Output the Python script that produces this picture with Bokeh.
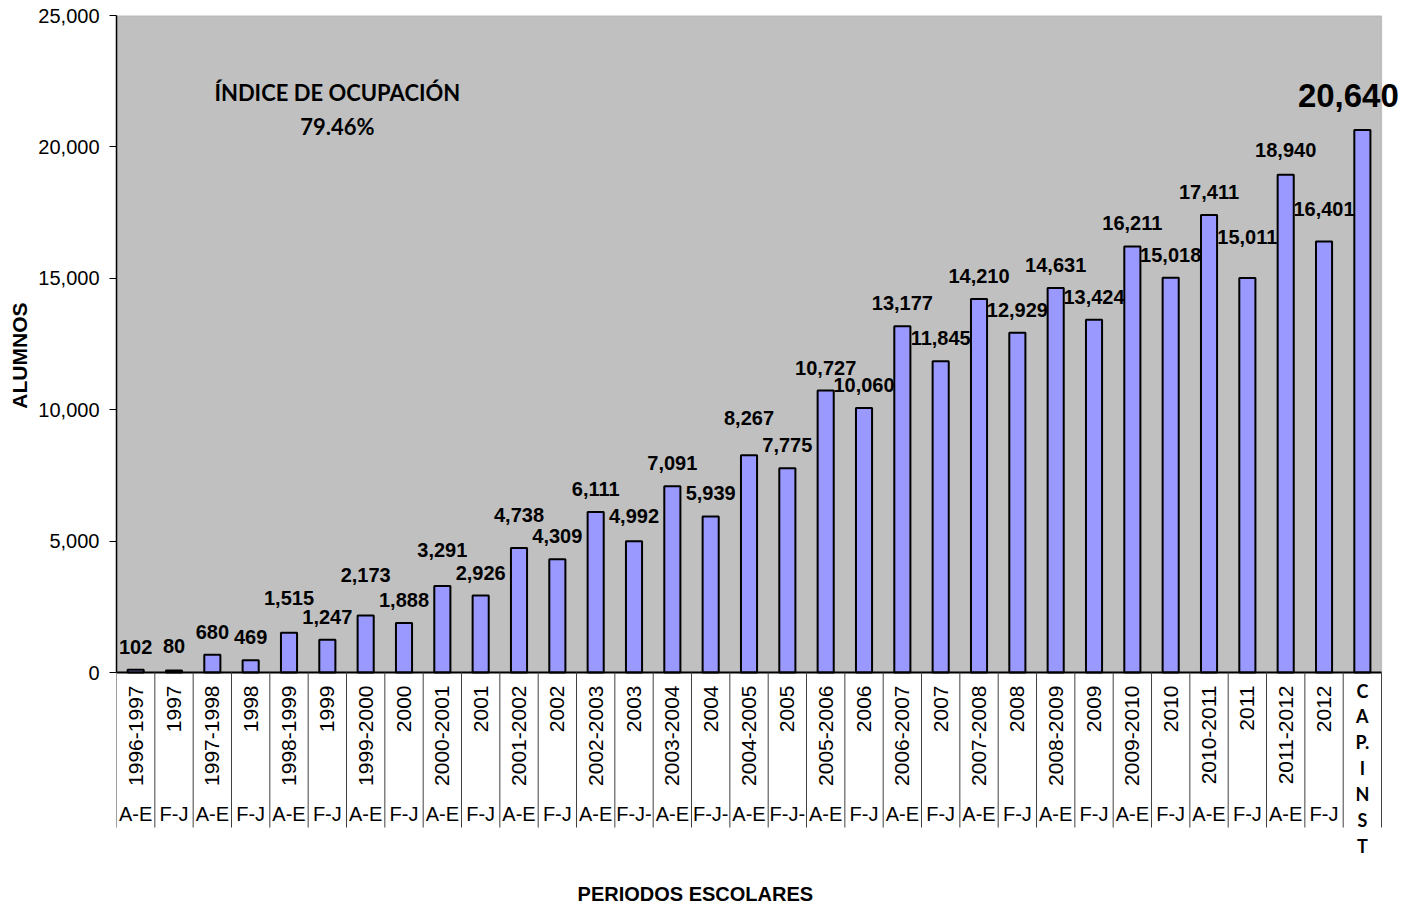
import numpy as np
from bokeh.plotting import figure
from bokeh.models import (Range1d, FixedTicker, NumeralTickFormatter, ColumnDataSource,
                          BoxAnnotation, Title)
from bokeh.embed import file_html
from bokeh.resources import INLINE
from bokeh.core.properties import value

# ---------------- data ----------------
periodos = ["1996-1997", "1997", "1997-1998", "1998", "1998-1999", "1999", "1999-2000", "2000",
            "2000-2001", "2001", "2001-2002", "2002", "2002-2003", "2003", "2003-2004", "2004",
            "2004-2005", "2005", "2005-2006", "2006", "2006-2007", "2007", "2007-2008", "2008",
            "2008-2009", "2009", "2009-2010", "2010", "2010-2011", "2011", "2011-2012", "2012",
            "CAP. INST"]
semestre = ["A-E", "F-J", "A-E", "F-J", "A-E", "F-J", "A-E", "F-J",
            "A-E", "F-J", "A-E", "F-J", "A-E", "F-J-", "A-E", "F-J-",
            "A-E", "F-J-", "A-E", "F-J", "A-E", "F-J", "A-E", "F-J",
            "A-E", "F-J", "A-E", "F-J", "A-E", "F-J", "A-E", "F-J",
            ""]
alumnos = [102, 80, 680, 469, 1515, 1247, 2173, 1888,
           3291, 2926, 4738, 4309, 6111, 4992, 7091, 5939,
           8267, 7775, 10727, 10060, 13177, 11845, 14210, 12929,
           14631, 13424, 16211, 15018, 17411, 15011, 18940, 16401,
           20640]
y_ticks = [0, 5000, 10000, 15000, 20000, 25000]
Y_MAX = 25000
indice_titulo = "ÍNDICE DE OCUPACIÓN"
indice_valor = "79.46%"
titulo_y = "ALUMNOS"
titulo_x = "PERIODOS ESCOLARES"

# gap (px) between bar top and label baseline; some labels were moved by hand in the original
label_lift = [15] * len(alumnos)
for i, g in {1: 16, 4: 27, 6: 32, 8: 28, 10: 25, 13: 17, 16: 29, 29: 33, 30: 17, 31: 24, 32: 21}.items():
    label_lift[i] = g

# ---------------- layout (page pixels) ----------------
LEFT = 115            # left edge of plot area
TOP = 15              # top of plot area
AXIS_Y = 672          # y of the value 0
CAT_W_TOTAL = 1266    # width of category area
FRAME_W = 1295
FRAME_BOTTOM = 902
WIDTH = 1415
HEIGHT = 904
BASELINE_FIX = 0.4    # em correction for Bokeh's alphabetic baseline

n = len(alumnos)
xc = np.arange(n) + 0.5
px_per_cat = CAT_W_TOTAL / n
x_end = n + (FRAME_W - CAT_W_TOTAL) / px_per_cat
units_per_px = Y_MAX / (AXIS_Y - TOP)
y_start = -(FRAME_BOTTOM - AXIS_Y) * units_per_px

FONT = "Liberation Sans"
LBL_SIZE = 20
BIG_SIZE = 33

src = ColumnDataSource(dict(
    x=xc[:-1], alumnos=alumnos[:-1],
    lbl=[f"{v:,}" for v in alumnos[:-1]],
    yoff=[-(l + BASELINE_FIX * LBL_SIZE) for l in label_lift[:-1]],
))
bars = ColumnDataSource(dict(x=xc, alumnos=alumnos))

p = figure(width=WIDTH, height=HEIGHT, x_range=Range1d(0, x_end),
           y_range=Range1d(y_start, Y_MAX), output_backend="svg", toolbar_location=None,
           x_axis_location=None, min_border_left=LEFT, min_border_right=WIDTH - LEFT - FRAME_W,
           min_border_top=TOP, min_border_bottom=HEIGHT - FRAME_BOTTOM)
p.extra_y_ranges = {"px": Range1d(start=FRAME_BOTTOM, end=TOP)}
p.background_fill_color = "white"
p.border_fill_color = "white"
p.outline_line_color = None
p.grid.visible = False

# grey plot area
p.add_layout(BoxAnnotation(left=0, right=n, bottom=0, top=Y_MAX, fill_color="#C0C0C0",
                           fill_alpha=1, line_color="#808080", line_width=1.5, level="underlay"))

p.vbar(x="x", top="alumnos", width=0.42, fill_color="#9999FF", line_color="black",
       line_width=2, source=bars)
# category axis line
p.segment(x0=[0], y0=[0], x1=[n], y1=[0], line_color="black", line_width=2)

# data labels
p.text(x="x", y="alumnos", text="lbl", y_offset="yoff", text_font=value(FONT),
       text_font_style="bold", text_font_size=f"{LBL_SIZE}px", text_align="center",
       text_baseline="alphabetic", text_color="black", source=src)
p.text(x=[xc[-1]], y=[alumnos[-1]], text=[f"{alumnos[-1]:,}"], x_offset=-14,
       y_offset=-(label_lift[-1] + BASELINE_FIX * BIG_SIZE),
       text_font=value(FONT), text_font_style="bold", text_font_size=f"{BIG_SIZE}px",
       text_align="center", text_baseline="alphabetic", text_color="black")

# occupancy note
p.text(x=[5.76, 5.76], y=[92, 126], text=[indice_titulo, indice_valor], y_range_name="px",
       text_font=value("Lato"), text_font_style="bold", text_font_size="22px",
       text_align="center", text_baseline="middle", text_color="black")

ax = p.yaxis[0]
ax.ticker = FixedTicker(ticks=y_ticks)
ax.bounds = (0, Y_MAX)
ax.formatter = NumeralTickFormatter(format="0,0")
ax.major_label_text_font = FONT
ax.major_label_text_font_size = "20px"
ax.major_label_text_color = "black"
ax.major_label_standoff = 10
ax.axis_line_color = "black"
ax.axis_line_width = 1.5
ax.major_tick_out = 7
ax.major_tick_in = 0
ax.major_tick_line_color = "black"
ax.minor_tick_out = 0
ax.minor_tick_in = 0

# y title, centred on the value scale (not on the whole frame)
p.add_layout(Title(text=titulo_y, align="right", offset=287, text_font=FONT,
                   text_font_style="bold", text_font_size="21px", text_color="black",
                   standoff=10), "left")

# ---------------- category labels below the axis ----------------
edges = np.arange(n + 1)
p.segment(x0=edges, y0=AXIS_Y, x1=edges, y1=827, y_range_name="px",
          line_color="#404040", line_width=1)

p.text(x=xc[:-1], y=685, text=periodos[:-1], angle=np.pi / 2, y_range_name="px",
       text_font=value(FONT), text_font_size="21px", text_align="right",
       text_baseline="middle", text_color="black")
p.text(x=xc[:-1], y=813, text=semestre[:-1], y_range_name="px", text_font=value(FONT),
       text_font_size="20px", text_align="center", text_baseline="middle", text_color="black")

stack = []
for ch in periodos[-1]:
    if ch == " ":
        continue
    if ch == "." and stack:
        stack[-1] += "."
    else:
        stack.append(ch)
p.text(x=[xc[-1]], y=[679], text=["\n".join(stack)], y_range_name="px",
       text_font=value("Lato"), text_font_style="bold", text_font_size="18px",
       text_align="center", text_baseline="top", text_line_height=1.18, text_color="black")

p.text(x=[15.1], y=[893], text=[titulo_x], y_range_name="px", text_font=value(FONT),
       text_font_style="bold", text_font_size="20px", text_align="center",
       text_baseline="middle", text_color="black")

open("out.html", "w").write(file_html(p, INLINE))
